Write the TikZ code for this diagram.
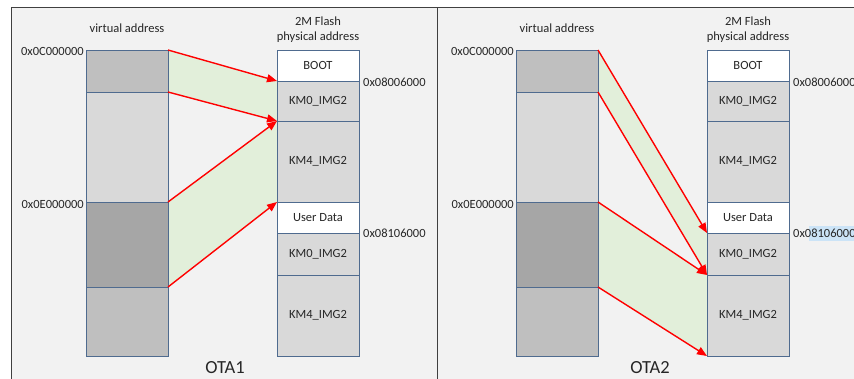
\documentclass[tikz,border=0pt]{standalone}
\usepackage{fontspec}
\setmainfont{Carlito}
\usetikzlibrary{arrows.meta,backgrounds}
\definecolor{panelbg}{HTML}{F2F2F2}
\definecolor{mapgreen}{HTML}{E2EFDA}
\definecolor{edge}{HTML}{4F6B8F}
\definecolor{frame}{HTML}{404040}
\definecolor{txt}{HTML}{262626}
\definecolor{lgray}{HTML}{D9D9D9}
\definecolor{mgray}{HTML}{BFBFBF}
\definecolor{dgray}{HTML}{A6A6A6}
\definecolor{selblue}{HTML}{CCE4F7}
\tikzset{
  blk/.style={draw=edge, line width=0.9pt, minimum width=82pt, inner sep=0pt,
    outer sep=0pt, font=\fontsize{12.5}{14}\selectfont, text=txt},
  lbl/.style={inner sep=0pt, font=\fontsize{12.5}{15}\selectfont, text=txt},
  ttl/.style={inner sep=0pt, font=\fontsize{18.5}{20}\selectfont, text=txt},
  maparrow/.style={draw=red, line width=1.4pt,
    -{Triangle[length=10pt,width=8pt]}, shorten >=0pt},
  mapfill/.style={fill=mapgreen},
  framebox/.style={draw=frame, line width=0.8pt}
}
% One OTA panel: #1 name prefix, #2 horizontal shift, #3 x of the title, #4 title
\newcommand\otapanel[4]{%
  \begin{scope}[xshift=#2]
    % virtual address column
    \node[blk, fill=mgray, minimum height=42pt]  (#1va) at (127,71)    {};
    \node[blk, fill=lgray, minimum height=110pt] (#1vb) at (127,147)   {};
    \node[blk, fill=dgray, minimum height=85pt]  (#1vc) at (127,244.5) {};
    \node[blk, fill=mgray, minimum height=69pt]  (#1vd) at (127,321.5) {};
    % flash column
    \node[blk, fill=white, minimum height=31pt] (#1boot) at (318,65.5)  {BOOT};
    \node[blk, fill=lgray, minimum height=40pt] (#1kma)  at (318,101)   {KM0\_IMG2};
    \node[blk, fill=lgray, minimum height=81pt] (#1kfa)  at (318,161.5) {KM4\_IMG2};
    \node[blk, fill=white, minimum height=31pt] (#1user) at (318,217.5) {User Data};
    \node[blk, fill=lgray, minimum height=42pt] (#1kmb)  at (318,254)   {KM0\_IMG2};
    \node[blk, fill=lgray, minimum height=81pt] (#1kfb)  at (318,315.5) {KM4\_IMG2};
    % captions and addresses
    \node[lbl] (#1vcap) at (127,28) {virtual address};
    \node[lbl, align=center] (#1fcap) at (318,30) {2M Flash\\physical address};
    \node[lbl, anchor=east] (#1adda) at (84,51)  {0x0C000000};
    \node[lbl, anchor=west] (#1addb) at (363,82) {0x08006000};
    \node[lbl, anchor=east] (#1addc) at (84,204) {0x0E000000};
    \node[lbl, anchor=west] (#1addd) at (363,233) {0x08106000};
  \end{scope}
  \node[ttl] (#1title) at (#3,368) {#4};
}
\begin{document}
\begin{tikzpicture}[x=1pt,y=-1pt]
  \useasboundingbox (0,0) rectangle (854,378);
  \clip (0,0) rectangle (854,378);

  \otapanel{p}{0pt}{225}{OTA1}
  \otapanel{q}{430pt}{650}{OTA2}

  \begin{scope}[on background layer]
    \fill[white] (0,0) rectangle (854,378);
    \fill[panelbg] (11,7) rectangle (437,420);
    \fill[panelbg] (437,7) rectangle (880,420);
    % selection highlight over the second OTA2 flash address
    \fill[selblue] (809,226) rectangle (860,241);
    % mapped regions, OTA1
    \fill[mapfill] (pva.north east) -- (pkma.north west) -- (pkfa.north west)
                   -- (pva.south east) -- cycle;
    \fill[mapfill] (pvc.north east) -- (pkfa.north west) -- (puser.north west)
                   -- (pvc.south east) -- cycle;
    % mapped regions, OTA2
    \fill[mapfill] (qva.north east) -- (qkmb.north west) -- (qkmb.south west)
                   -- (qva.south east) -- cycle;
    \fill[mapfill] (qvc.north east) -- (qkmb.south west) -- (qkfb.south west)
                   -- (qvc.south east) -- cycle;
  \end{scope}

  % panel frames
  \draw[framebox] (11,7) rectangle (437,420);
  \draw[framebox] (437,7) rectangle (880,420);

  % OTA1 mapping arrows
  \draw[maparrow] (pva.north east) -- (pkma.north west);
  \draw[maparrow] (pva.south east) -- (pkfa.north west);
  \draw[maparrow] (pvc.north east) -- (pkfa.north west);
  \draw[maparrow] (pvc.south east) -- (puser.north west);

  % OTA2 mapping arrows
  \draw[maparrow] (qva.north east) -- (qkmb.north west);
  \draw[maparrow] (qva.south east) -- (qkmb.south west);
  \draw[maparrow] (qvc.north east) -- (qkmb.south west);
  \draw[maparrow] (qvc.south east) -- (qkfb.south west);
\end{tikzpicture}
\end{document}
